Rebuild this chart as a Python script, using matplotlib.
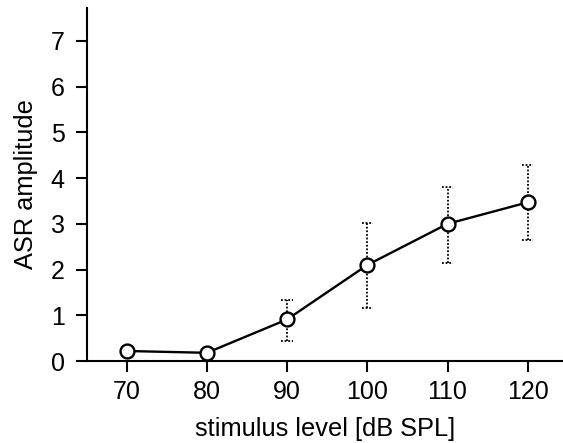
import numpy as np
import matplotlib
matplotlib.use("Agg")
import matplotlib.pyplot as plt

plt.rcParams['font.family'] = ['Liberation Sans', 'DejaVu Sans']

levels = [70, 80, 90, 100, 110, 120]
amplitude = [0.22, 0.18, 0.91, 2.10, 3.00, 3.47]
err_low = [0.0, 0.0, 0.47, 0.95, 0.85, 0.82]
err_high = [0.0, 0.0, 0.42, 0.91, 0.81, 0.81]

fig = plt.figure(figsize=(5.63, 4.43), dpi=100)
ax = fig.add_axes([0.1545, 0.185, 0.8455, 0.797])

# dotted error bars with dotted caps (only where there is spread)
lv = np.array(levels, dtype=float)
amp = np.array(amplitude)
lo = amp - np.array(err_low)
hi = amp + np.array(err_high)
has = np.array(err_low) > 0
dots = (0, (1, 1))
ax.vlines(lv[has], lo[has], hi[has], colors="black", lw=1.3, linestyles=[dots], zorder=2)
ax.hlines(lo[has], lv[has] - 0.7, lv[has] + 0.7, colors="black", lw=1.3, linestyles=[dots], zorder=2)
ax.hlines(hi[has], lv[has] - 0.7, lv[has] + 0.7, colors="black", lw=1.3, linestyles=[dots], zorder=2)

ax.plot(levels, amplitude, color="black", lw=1.7, marker="o", markersize=10,
        markerfacecolor="white", markeredgecolor="black", markeredgewidth=1.7, zorder=3)

ax.set_xlim(65.05, 124.4)
ax.set_ylim(0, 7.72)
ax.set_xticks(levels)
ax.set_yticks(range(0, 8))
ax.spines["top"].set_visible(False)
ax.spines["right"].set_visible(False)
ax.spines["left"].set_linewidth(1.5)
ax.spines["bottom"].set_linewidth(1.5)
ax.tick_params(direction="out", length=8, width=1.5, labelsize=18)
ax.tick_params(axis="x", pad=6)
ax.tick_params(axis="y", pad=8)
ax.set_xlabel("stimulus level [dB SPL]", fontsize=18.3, labelpad=9)
ax.set_ylabel("ASR amplitude", fontsize=18.3, labelpad=9)

fig.savefig("out.png", dpi=100)
